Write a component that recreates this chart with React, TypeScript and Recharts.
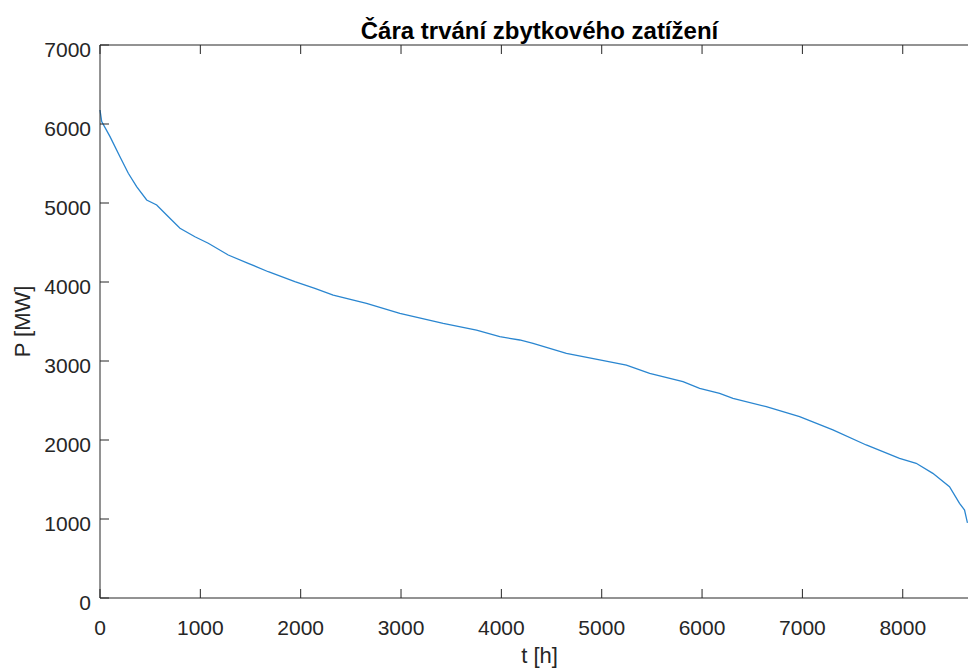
import { LineChart, Line, XAxis, YAxis } from 'recharts';

// Residual load duration curve, hours of the year sorted by load
const hours = [
  0, 17, 100, 199, 282, 365, 465, 565, 664, 797, 946, 1079, 1278, 1477, 1677, 1942,
  2141, 2324, 2656, 2988, 3420, 3752, 3984, 4183, 4316, 4648, 4980, 5246, 5478, 5810,
  5976, 6175, 6308, 6640, 6972, 7304, 7636, 7968, 8134, 8300, 8466, 8566, 8616, 8645,
];
const loadMW = [
  6177, 6030, 5840, 5586, 5376, 5207, 5038, 4975, 4848, 4680, 4573, 4490, 4342, 4237, 4130, 4004,
  3920, 3835, 3730, 3604, 3477, 3392, 3308, 3266, 3224, 3097, 3013, 2949, 2844, 2738,
  2654, 2591, 2527, 2422, 2295, 2127, 1937, 1768, 1705, 1578, 1409, 1199, 1114, 950,
];
const xTicks = [0, 1000, 2000, 3000, 4000, 5000, 6000, 7000, 8000];
const yTicks = [0, 1000, 2000, 3000, 4000, 5000, 6000, 7000];

const data = hours.map((t, i) => ({ t, p: loadMW[i] }));

const FONT = '"Liberation Sans", Arial, Helvetica, sans-serif';
const INK = '#262626';
const TICK_LEN = 9;

const BottomTick = (props: any) => {
  const { x, y, payload } = props;
  return (
    <g>
      <line x1={x} x2={x} y1={y} y2={y - TICK_LEN} stroke={INK} />
      <text x={x} y={y + 25} dy={4} textAnchor="middle" dominantBaseline="central" fill={INK} fontSize={21} fontFamily={FONT}>
        {payload.value}
      </text>
    </g>
  );
};

const TopTick = (props: any) => {
  const { x, y } = props;
  return <line x1={x} x2={x} y1={y} y2={y + TICK_LEN} stroke={INK} />;
};

const LeftTick = (props: any) => {
  const { x, y, payload } = props;
  return (
    <g>
      <line x1={x} x2={x + TICK_LEN} y1={y} y2={y} stroke={INK} />
      <text x={x - 9} y={y} dy={4} textAnchor="end" dominantBaseline="central" fill={INK} fontSize={21} fontFamily={FONT}>
        {payload.value}
      </text>
    </g>
  );
};

const RightTick = (props: any) => {
  const { x, y } = props;
  return <line x1={x} x2={x - TICK_LEN} y1={y} y2={y} stroke={INK} />;
};

export default function App() {
  return (
    <div style={{ position: 'absolute', left: 0, top: 0, width: 968, height: 670, overflow: 'hidden', background: '#fff' }}>
      <LineChart width={1000} height={670} data={data} margin={{ top: 0, right: 0, bottom: 0, left: 0 }}>
        <XAxis
          xAxisId="bottom"
          dataKey="t"
          type="number"
          domain={[0, 8760]}
          ticks={xTicks}
          height={72}
          tickSize={0}
          tickMargin={0}
          tickLine={false}
          axisLine={{ stroke: INK }}
          tick={BottomTick}
          interval={0}
          label={{ value: 't [h]', position: 'insideBottom', offset: 7, fill: INK, fontSize: 22, fontFamily: FONT }}
        />
        <XAxis
          xAxisId="top"
          orientation="top"
          dataKey="t"
          type="number"
          domain={[0, 8760]}
          ticks={xTicks}
          height={45}
          tickSize={0}
          tickMargin={0}
          tickLine={false}
          axisLine={{ stroke: INK }}
          tick={TopTick}
          interval={0}
          label={{ value: 'Čára trvání zbytkového zatížení', position: 'insideTop', offset: 22, fill: '#000', fontSize: 24, fontWeight: 'bold', fontFamily: FONT }}
        />
        <YAxis
          yAxisId="left"
          dataKey="p"
          type="number"
          domain={[0, 7000]}
          ticks={yTicks}
          width={100}
          tickSize={0}
          tickMargin={0}
          tickLine={false}
          axisLine={{ stroke: INK }}
          tick={LeftTick}
          interval={0}
          label={{ value: 'P [MW]', angle: -90, position: 'insideLeft', offset: 22, fill: INK, fontSize: 22, fontFamily: FONT, style: { textAnchor: 'middle' } }}
        />
        <YAxis
          yAxisId="right"
          orientation="right"
          type="number"
          domain={[0, 7000]}
          ticks={yTicks}
          width={21}
          tickSize={0}
          tickMargin={0}
          tickLine={false}
          axisLine={{ stroke: INK }}
          tick={RightTick}
          interval={0}
        />
        <Line
          xAxisId="bottom"
          yAxisId="left"
          type="linear"
          dataKey="p"
          stroke="#2a86d0"
          strokeWidth={1.3}
          dot={false}
          activeDot={false}
          isAnimationActive={false}
        />
      </LineChart>
    </div>
  );
}
